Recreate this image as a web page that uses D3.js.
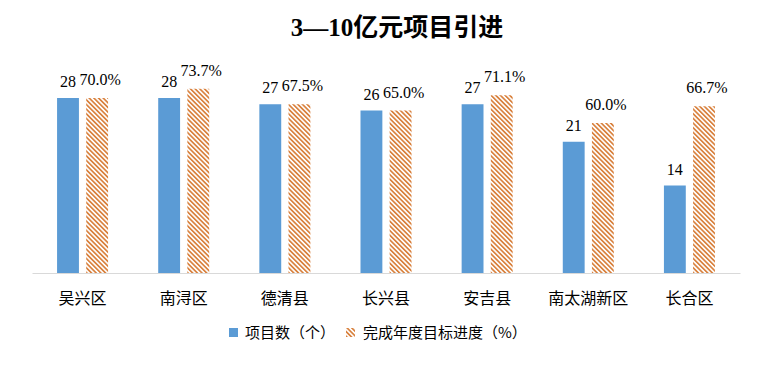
<!DOCTYPE html>
<html>
<head>
<meta charset="utf-8">
<script src="https://cdn.jsdelivr.net/npm/d3@7/dist/d3.min.js"></script>
<style>
  body { margin: 0; background: #fff; }
  svg { display: block; }
</style>
</head>
<body>
<svg id="chart" width="768" height="367"></svg>
<script>
// data
var categories = ["吴兴区", "南浔区", "德清县", "长兴县", "安吉县", "南太湖新区", "长合区"];
var projectCounts = [28, 28, 27, 26, 27, 21, 14];
var progressPct = [70.0, 73.7, 67.5, 65.0, 71.1, 60.0, 66.7];
var seriesNames = ["项目数（个）", "完成年度目标进度（%）"];

var svg = d3.select("#chart");
var baseY = 273, topY = 73;
var blue = "#5B9BD5", orange = "#D9823F";
var serif = "'Liberation Serif', 'Times New Roman', serif";
var cjk = "'Noto Sans CJK SC', 'Noto Sans', sans-serif";

// hatch pattern for the progress bars (fine stripes going down to the right)
var defs = svg.append("defs");
var pat = defs.append("pattern")
    .attr("id", "hatch")
    .attr("patternUnits", "userSpaceOnUse")
    .attr("width", 3.3).attr("height", 3.3)
    .attr("patternTransform", "rotate(-45)");
pat.append("rect").attr("width", 3.3).attr("height", 3.3).attr("fill", "#fff");
pat.append("rect").attr("x", 0).attr("y", 0).attr("width", 1.7).attr("height", 3.3).attr("fill", orange);

var x0 = d3.scaleBand().domain(categories).range([32, 740]).padding(0);
var x1 = d3.scaleBand().domain([0, 1]).range([0, x0.bandwidth()])
    .paddingInner(0.25).paddingOuter(0.86);
var yCount = d3.scaleLinear().domain([0, 32]).range([baseY, topY]);
var yPct = d3.scaleLinear().domain([0, 80]).range([baseY, topY]);

// title
svg.append("text")
    .attr("x", 397).attr("y", 36)
    .attr("text-anchor", "middle")
    .style("font-family", serif + ", " + cjk)
    .style("font-size", "25px")
    .style("font-weight", "bold")
    .text("3—10亿元项目引进");

var groups = svg.selectAll("g.cat")
    .data(categories)
    .enter().append("g")
    .attr("class", "cat")
    .attr("transform", function (d) { return "translate(" + x0(d) + ",0)"; });

// count bars
groups.append("rect")
    .attr("x", x1(0))
    .attr("y", function (d, i) { return yCount(projectCounts[i]); })
    .attr("width", x1.bandwidth())
    .attr("height", function (d, i) { return baseY - yCount(projectCounts[i]); })
    .style("fill", blue);

// progress bars (hatched)
groups.append("rect")
    .attr("x", x1(1))
    .attr("y", function (d, i) { return yPct(progressPct[i]); })
    .attr("width", x1.bandwidth())
    .attr("height", function (d, i) { return baseY - yPct(progressPct[i]); })
    .style("fill", "url(#hatch)");

// value labels
groups.append("text")
    .attr("x", x1(0) + x1.bandwidth() / 2)
    .attr("y", function (d, i) { return yCount(projectCounts[i]) - 11; })
    .attr("text-anchor", "middle")
    .style("font-family", serif)
    .style("font-size", "16px")
    .text(function (d, i) { return projectCounts[i]; });

groups.append("text")
    .attr("x", x1(1) + x1.bandwidth() / 2 + 3)
    .attr("y", function (d, i) { return yPct(progressPct[i]) - 13; })
    .attr("text-anchor", "middle")
    .style("font-family", serif)
    .style("font-size", "16px")
    .text(function (d, i) { return progressPct[i].toFixed(1) + "%"; });

// axis
var xAxis = d3.axisBottom(x0).tickSize(0).tickPadding(20);
var ax = svg.append("g").attr("transform", "translate(0," + baseY + ")").call(xAxis);
ax.select(".domain").attr("stroke", "#D9D9D9").attr("stroke-width", 1);
ax.selectAll("text")
    .style("font-family", cjk)
    .style("font-size", "16px")
    .attr("fill", "#000");

// legend
var legendX = [229, 346];
var legend = svg.selectAll("g.legend")
    .data(seriesNames)
    .enter().append("g")
    .attr("class", "legend")
    .attr("transform", function (d, i) { return "translate(" + legendX[i] + ",328)"; });
legend.append("rect")
    .attr("width", 9).attr("height", 9)
    .style("fill", function (d, i) { return i === 0 ? blue : "url(#hatch)"; });
legend.append("text")
    .attr("x", function (d, i) { return i === 0 ? 16 : 17; })
    .attr("y", 10)
    .style("font-family", cjk)
    .style("font-size", "15px")
    .text(function (d) { return d; });
</script>
</body>
</html>
